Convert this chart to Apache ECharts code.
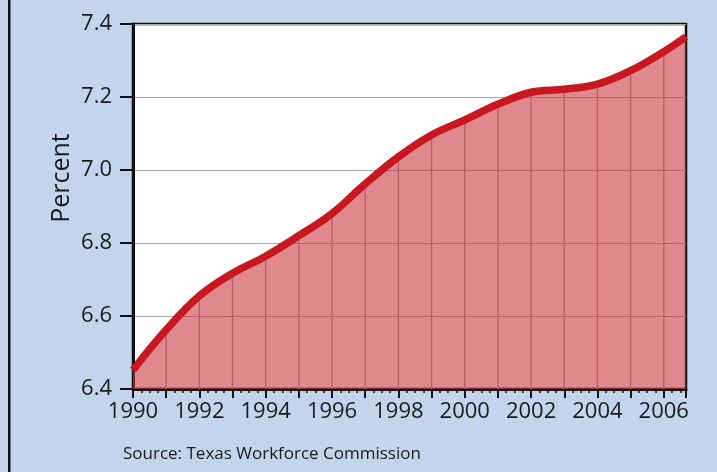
<!DOCTYPE html>
<html>
<head>
<meta charset="utf-8">
<script src="https://cdn.jsdelivr.net/npm/echarts@6/dist/echarts.min.js"></script>
<style>
html,body{margin:0;padding:0;background:#c2d5ed;}
#c{width:717px;height:472px;}
</style>
</head>
<body>
<div id="c"></div>
<script>
const years = [1990,1991,1992,1993,1994,1995,1996,1997,1998,1999,2000,2001,2002,2003,2004,2005,2006,2006.67];
const values = [6.452,6.562,6.655,6.717,6.764,6.82,6.881,6.962,7.036,7.096,7.137,7.18,7.213,7.221,7.235,7.272,7.324,7.365];
const yTicks = [6.4,6.6,6.8,7.0,7.2,7.4];
const yTitle = 'Percent';
const sourceText = 'Source: Texas Workforce Commission';

const pts = years.map((y,i)=>[y, values[i]]);
const yearPts = pts.filter(p => Number.isInteger(p[0]) && p[0] > years[0]);
const yMin = yTicks[0], yMax = yTicks[yTicks.length-1];

const chart = echarts.init(document.getElementById('c'));
chart.setOption({
  backgroundColor: '#c2d5ed',
  animation: false,
  textStyle: {fontFamily: 'Open Sans'},
  grid: {left: 133, right: 31, top: 24, bottom: 83, show: true, backgroundColor: '#ffffff', borderColor: '#111', borderWidth: 2.5},
  xAxis: {
    type: 'value', min: years[0], max: years[years.length-1], interval: 1,
    axisLine: {lineStyle: {color: '#111', width: 3}},
    axisTick: {length: 9, lineStyle: {color: '#111', width: 2}},
    minorTick: {show: true, splitNumber: 4, length: 4, lineStyle: {color: '#111', width: 1.5}},
    splitLine: {show: false},
    axisLabel: {color: '#1a1a1a', fontSize: 22, margin: 12,
      formatter: v => (Number.isInteger(v) && v % 2 === 0) ? String(v) : ''}
  },
  yAxis: {
    type: 'value', min: yMin, max: yMax, interval: 0.2,
    axisLine: {show: true, lineStyle: {color: '#111', width: 3}},
    axisTick: {show: true, length: 13, lineStyle: {color: '#111', width: 2}},
    splitLine: {show: true, lineStyle: {color: '#a8a8a8', width: 1.2}},
    axisLabel: {color: '#1a1a1a', fontSize: 22, margin: 21, formatter: v => v.toFixed(1)}
  },
  graphic: [
    {type: 'rect', left: 8, top: 0, shape: {width: 2.5, height: 472}, style: {fill: '#111'}},
    {type: 'text', x: 62, y: 178, rotation: Math.PI/2, style: {text: yTitle, font: '25px "Open Sans"', fill: '#1a1a1a', textAlign: 'center', textVerticalAlign: 'middle'}},
    {type: 'text', left: 123, top: 446, style: {text: sourceText, font: '17px "Open Sans"', fill: '#1a1a1a'}}
  ],
  series: [
    {type: 'line', data: pts, smooth: 0.4, showSymbol: false, z: 1,
     lineStyle: {width: 0}, areaStyle: {color: 'rgba(200,50,58,0.58)', opacity: 1, origin: 'start'}},
    {type: 'custom', data: yearPts, z: 2, silent: true,
     renderItem: function(params, api){
       const a = api.coord([api.value(0), yMin]);
       const b = api.coord([api.value(0), api.value(1)]);
       return {type: 'line', shape: {x1: a[0], y1: a[1], x2: b[0], y2: b[1]}, style: {stroke: '#b65f68', lineWidth: 1.3}};
     }},
    {type: 'line', data: pts, smooth: 0.4, showSymbol: false, z: 3,
     lineStyle: {color: '#c8171e', width: 7.5}}
  ]
});
</script>
</body>
</html>
